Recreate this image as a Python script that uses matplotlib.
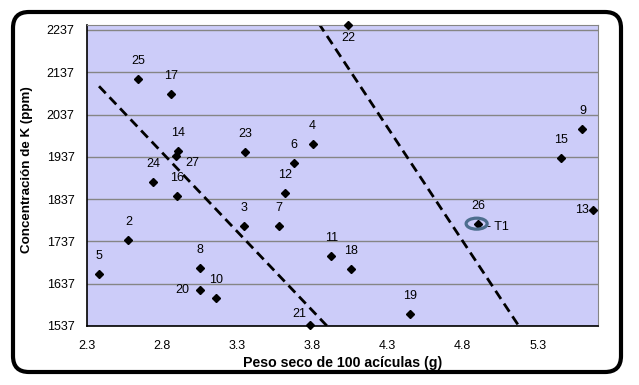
import numpy as np
import matplotlib
matplotlib.use("Agg")
import matplotlib.pyplot as plt
from matplotlib.patches import FancyBboxPatch, Ellipse

## Datos
etiquetas = ['2', '3', '4', '5', '6', '7', '8', '9', '10', '11', '12', '13', '14',
             '15', '16', '17', '18', '19', '20', '21', '22', '23', '24', '25', '26', '27']
peso = [2.576, 3.344, 3.802, 2.382, 3.680, 3.576, 3.053, 5.598, 3.156, 3.927, 3.620,
        5.669, 2.905, 5.458, 2.898, 2.862, 4.055, 4.449, 3.055, 3.782, 4.038, 3.355,
        2.742, 2.642, 4.904, 2.893]
potasio = [1741, 1774, 1967, 1660, 1922, 1774, 1674, 2003, 1604, 1703, 1851,
           1812, 1951, 1935, 1845, 2085, 1672, 1565, 1623, 1539, 2249, 1948,
           1877, 2121, 1779, 1940]

# lineas de tendencia (discontinuas)
linea1_x = [2.38, 3.898]
linea1_y = [2104, 1537]
linea2_x = [3.842, 5.175]
linea2_y = [2253, 1537]

xticks = [2.3, 2.8, 3.3, 3.8, 4.3, 4.8, 5.3]
yticks = [1537, 1637, 1737, 1837, 1937, 2037, 2137, 2237]

# posicion de etiquetas (pixeles) distinta de "encima"
desplazamiento = {'27': (16, -7), '20': (-18, 0), '21': (-10, 11),
                  '22': (0, -13), '13': (-11, 0)}

plt.rcParams['font.family'] = ['Liberation Sans', 'DejaVu Sans']

fig = plt.figure(figsize=(6.39, 3.85), dpi=100)

# marco redondeado
fondo = fig.add_axes([0, 0, 1, 1], zorder=0)
fondo.set_xlim(0, 639)
fondo.set_ylim(0, 385)
fondo.axis('off')
fondo.add_patch(FancyBboxPatch((13, 13), 608, 360, boxstyle='round,pad=0,rounding_size=16',
                               fc='white', ec='black', lw=3))

ax = fig.add_axes([87/639, 1-326/385, 511/639, 301.5/385], zorder=1)
ax.set_facecolor('#ccccf9')
ax.set_xlim(2.3, 5.702)
ax.set_ylim(1537, 2250)
ax.set_xticks(xticks)
ax.set_yticks(yticks)
ax.set_xticklabels([str(v) for v in xticks], fontsize=9)
ax.set_yticklabels([str(v) for v in yticks], fontsize=9)
ax.tick_params(axis='x', length=0, pad=10)
ax.tick_params(axis='y', length=0, pad=9)
ax.grid(axis='y', color='#858585', lw=1)
ax.set_axisbelow(True)
for lado in ['top', 'right']:
    ax.spines[lado].set_color('#858585')
for lado in ['left', 'bottom']:
    ax.spines[lado].set_color('black')
    ax.spines[lado].set_linewidth(1.2)

ax.plot(linea1_x, linea1_y, color='black', lw=2, ls=(0, (3.5, 2)), zorder=2)
ax.plot(linea2_x, linea2_y, color='black', lw=2, ls=(0, (3.5, 2)), zorder=2, clip_on=True)
ax.plot(peso, potasio, 'D', color='black', ms=3.6, zorder=3, clip_on=False)

for et, xv, yv in zip(etiquetas, peso, potasio):
    dx, dy = desplazamiento.get(et, (0, 18))
    ax.annotate(et, (xv, yv), xytext=(dx, dy), textcoords='offset pixels',
                ha='center', va='center', fontsize=9)

# elipse sobre T1 (punto 26)
i26 = etiquetas.index('26')
ax.add_patch(Ellipse((peso[i26] - 0.01, potasio[i26]), 0.14, 26, fill=False,
                     ec='#4d6e8e', lw=2.3, zorder=4))
ax.annotate('- T1', (peso[i26], potasio[i26]), xytext=(9, -3), textcoords='offset pixels',
            ha='left', va='center', fontsize=9)

ax.set_xlabel('Peso seco de 100 acículas (g)', fontsize=10.2, fontweight='bold', labelpad=3)
ax.set_ylabel('Concentración de K (ppm)', fontsize=9.6, fontweight='bold')
ax.yaxis.set_label_coords(-0.106, 0.52)

fig.savefig('out.png', dpi=100)
